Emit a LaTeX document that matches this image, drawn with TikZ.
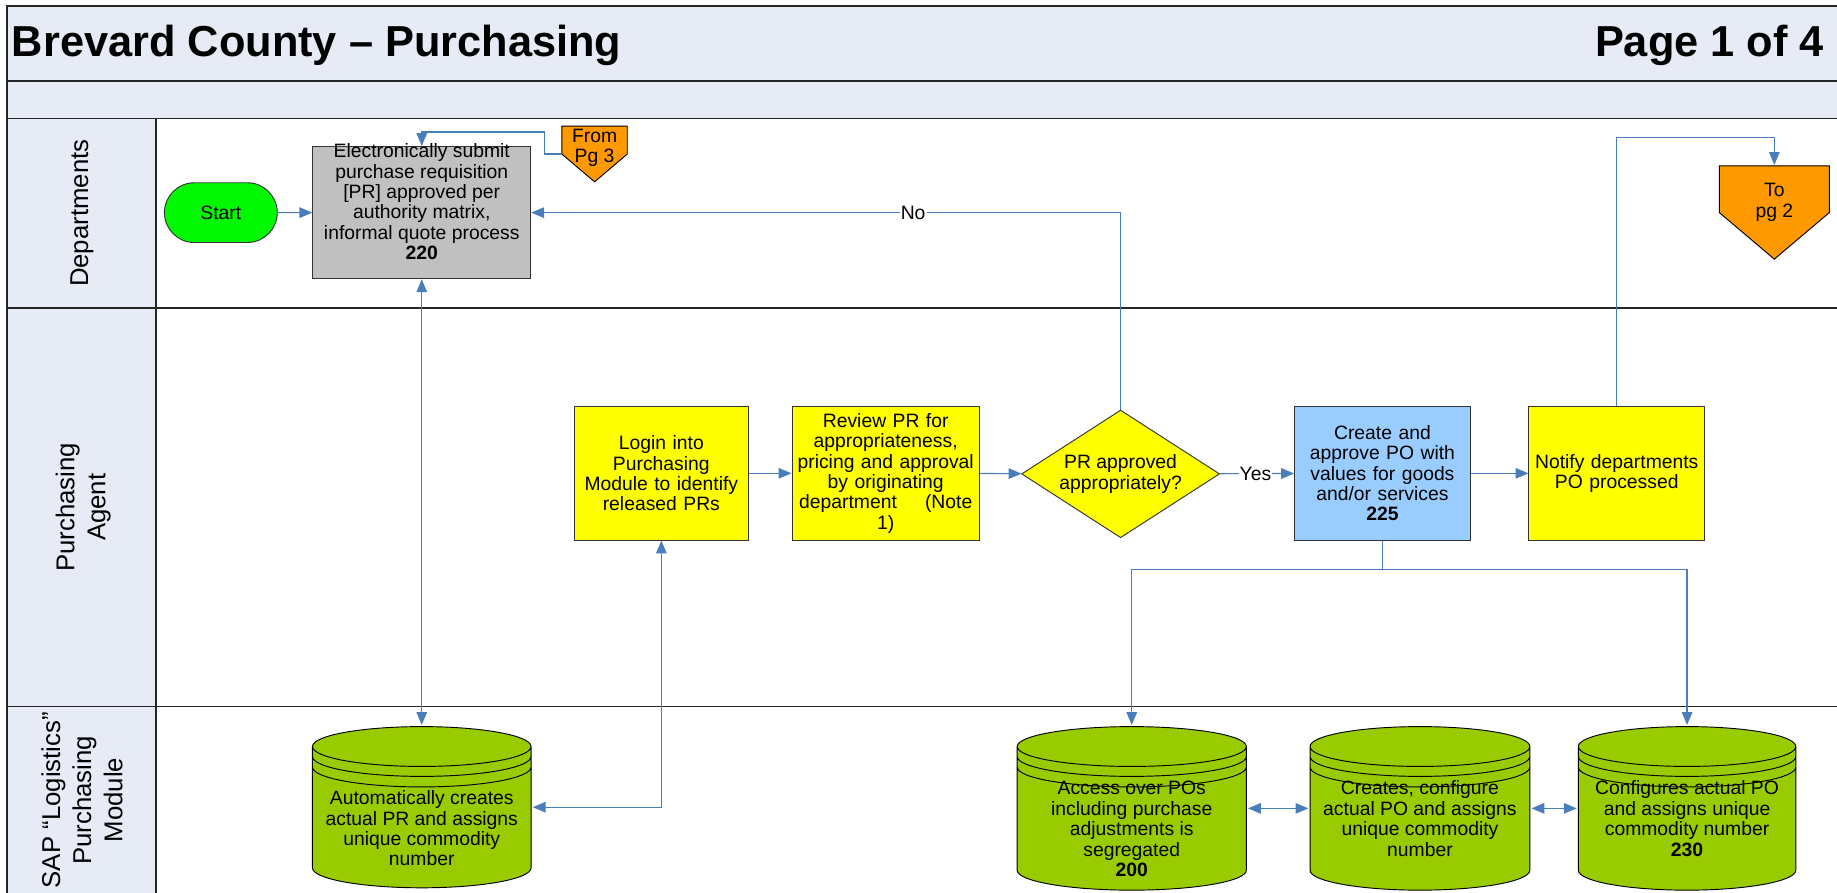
\documentclass[tikz,border=0pt]{standalone}
\usepackage{fontspec}
\setmainfont{Liberation Sans}
\usetikzlibrary{arrows.meta,shapes.geometric,shapes.misc,calc}

\definecolor{band}{HTML}{E6EBF5}
\definecolor{flow}{HTML}{4A7EBB}
\definecolor{boxgrey}{HTML}{C0C0C0}
\definecolor{boxyellow}{HTML}{FFFF00}
\definecolor{boxblue}{HTML}{99CCFF}
\definecolor{pageorange}{HTML}{FF9900}
\definecolor{startgreen}{HTML}{00F800}
\definecolor{dbgreen}{HTML}{99CC00}

% centred text block of zero size, raised by #1 inside its node
\newcommand\shifttext[2]{\makebox[0pt]{\raisebox{#1}[0pt][0pt]{\parbox{240pt}{\centering #2}}}}

\begin{document}
\begin{tikzpicture}[x=1pt,y=1pt,
  font=\fontsize{16.5}{17.4}\selectfont,
  >={Triangle[length=11pt,width=9pt]},
  frame/.style={draw=black!85, line width=1.2pt},
  task/.style={rectangle, draw=black!80, line width=0.8pt, inner sep=1pt, align=center},
  conn/.style={draw=flow, line width=1pt},
  lanelabel/.style={rotate=90, align=center, font=\fontsize{22}{26.5}\selectfont},
  tag/.style={fill=white, inner sep=1pt, text=black},
  database/.style={rectangle, draw=none, inner sep=0pt, path picture={
    \draw[fill=dbgreen, draw=black, line width=0.8pt]
      let \p1=(path picture bounding box.south west),
          \p2=(path picture bounding box.north east),
          \n1={(\x2-\x1)/2-1.2pt} in
      (\x1+1.2pt,\y2-18.2pt) -- (\x1+1.2pt,\y1+18.2pt)
      arc[start angle=180,end angle=360,x radius=\n1,y radius=17pt]
      -- (\x2-1.2pt,\y2-18.2pt)
      arc[start angle=0,end angle=180,x radius=\n1,y radius=17pt] -- cycle
      (\x1+1.2pt,\y2-18.2pt) arc[start angle=180,end angle=360,x radius=\n1,y radius=17pt]
      (\x1+1.2pt,\y2-26.7pt) arc[start angle=180,end angle=360,x radius=\n1,y radius=17pt]
      (\x1+1.2pt,\y2-35.7pt) arc[start angle=180,end angle=360,x radius=\n1,y radius=17pt];
  }},
  offpage/.style={rectangle, draw=none, inner sep=0pt, path picture={
    \draw[fill=pageorange, draw=black, line width=0.8pt]
      let \p1=(path picture bounding box.south west),
          \p2=(path picture bounding box.north east) in
      (\x1+0.6pt,\y2-0.6pt) -- (\x2-0.6pt,\y2-0.6pt) -- (\x2-0.6pt,{(\y1+\y2)/2})
      -- ({(\x1+\x2)/2},\y1+0.8pt) -- (\x1+0.6pt,{(\y1+\y2)/2}) -- cycle;
  }}]

\useasboundingbox (0,0) rectangle (1568,-762);
\clip (0,0) rectangle (1568,-762);

% header bands and lane frame
\fill[band] (6,-5) rectangle (1590,-101);
\fill[band] (6,-101) rectangle (133,-780);
\draw[frame] (6,-780) -- (6,-5) -- (1590,-5);
\draw[frame] (6,-69) -- (1590,-69);
\draw[frame] (6,-101) -- (1590,-101);
\draw[frame] (6,-263) -- (1590,-263);
\draw[frame] (6,-603) -- (1590,-603);
\draw[frame] (133,-101) -- (133,-780);

% title line
\node[anchor=base west, inner sep=0pt, font=\fontsize{37}{44}\selectfont\bfseries] (title) at (10,-48) {Brevard County – Purchasing};
\node[anchor=base east, inner sep=0pt, font=\fontsize{37}{44}\selectfont\bfseries] (pageno) at (1557,-48) {Page 1 of 4};

% lane names
\node[lanelabel] (laneA) at (70,-182) {Departments};
\node[lanelabel] (laneB) at (71,-433) {Purchasing\\Agent};
\node[lanelabel] (laneC) at (70,-683) {SAP “Logistics”\\Purchasing\\Module};

% Departments lane
\node[rounded rectangle, draw=black!80, line width=0.8pt, fill=startgreen,
      minimum width=103pt, minimum height=51pt] (start) at (188.5,-181.5) {Start};
\node[task, fill=boxgrey, minimum width=186pt, minimum height=113pt] (b220) at (360,-181.5)
  {\shifttext{5pt}{Electronically submit\\purchase requisition\\{}[PR] approved per\\authority matrix,\\informal quote process\\\textbf{220}}};
\node[offpage, minimum width=57pt, minimum height=49pt] (fp) at (507.5,-131.5)
  {\shifttext{1pt}{From\\Pg 3}};
\node[offpage, minimum width=95pt, minimum height=81pt] (topg) at (1514.5,-181.5)
  {\shifttext{4.5pt}{To\\pg 2}};

% Purchasing Agent lane
\node[task, fill=boxyellow, minimum width=149pt, minimum height=114pt, text width=145pt] (login) at (564.5,-404)
  {Login into\\Purchasing\\Module to identify\\released PRs};
\node[task, fill=boxyellow, minimum width=160pt, minimum height=114pt, text width=156pt] (review) at (756,-404)
  {Review PR for\\appropriateness,\\pricing and approval\\by originating\\department\hspace{24pt}(Note\\1)};
\node[diamond, aspect=1.55, draw=black!80, line width=0.8pt, fill=boxyellow, inner sep=0pt,
      minimum width=169pt, minimum height=109pt, align=center] (dia) at (956.5,-404.5)
  {PR approved\\appropriately?};
\node[task, fill=boxblue, minimum width=150pt, minimum height=114pt, text width=146pt] (b225) at (1180,-404)
  {Create and\\approve PO with\\values for goods\\and/or services\\\textbf{225}};
\node[task, fill=boxyellow, minimum width=150pt, minimum height=114pt, text width=146pt] (notify) at (1380,-404)
  {Notify departments\\PO processed};

% SAP lane
\node[database, minimum width=189pt, minimum height=140pt] (pr) at (360,-689)
  {\shifttext{-22.5pt}{Automatically creates\\actual PR and assigns\\unique commodity\\number}};
\node[database, minimum width=198pt, minimum height=142pt] (c200) at (966,-690)
  {\shifttext{-22pt}{Access over POs\\including purchase\\adjustments is\\segregated\\\textbf{200}}};
\node[database, minimum width=190pt, minimum height=142pt] (cmid) at (1212,-690)
  {\shifttext{-13pt}{Creates, configure\\actual PO and assigns\\unique commodity\\number}};
\node[database, minimum width=188pt, minimum height=142pt] (c230) at (1440,-690)
  {\shifttext{-13pt}{Configures actual PO\\and assigns unique\\commodity number\\\textbf{230}}};

% connectors
\draw[conn,->] (start) -- (b220);
\draw[conn,->] (fp.west) -- ++(-14,0) |- ([yshift=12pt]b220.north) -- (b220.north);
\draw[conn,->] (dia.north) |- node[tag, pos=0.676] (nolbl) {No} (b220.east);
\draw[conn,<->] (b220.south) -- (pr.north);
\draw[conn,<->] (pr.east) -| (login.south);
\draw[conn,->] (login) -- (review);
\draw[conn,->] (review) -- (dia);
\draw[conn,->] (dia) -- node[tag, pos=0.48] (yeslbl) {Yes} (b225);
\draw[conn,->] (b225) -- (notify);
\draw[conn,->] (notify.north) -- ++(0,229) -| (topg.north);
\draw[conn,->] (b225.south) -- ++(0,-25) -| (c200.north);
\draw[conn,->] (b225.south) -- ++(0,-25) -| (c230.north);
\draw[conn,<->] (c200.east) -- (cmid.west);
\draw[conn,<->] (cmid.east) -- (c230.west);
\end{tikzpicture}
\end{document}
